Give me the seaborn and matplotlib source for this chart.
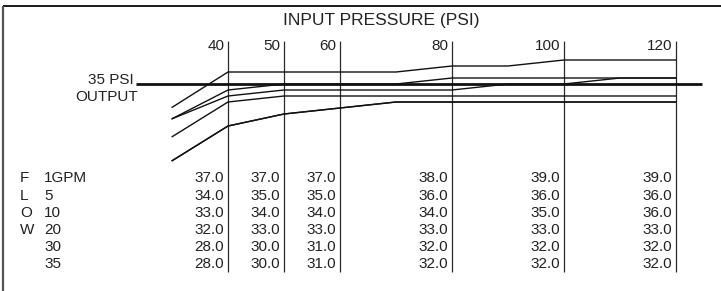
import matplotlib
matplotlib.use("Agg")
import matplotlib.pyplot as plt
import seaborn as sns
import pandas as pd
from matplotlib import font_manager

sns.set_theme(style="white")
fams = [f.name for f in font_manager.fontManager.ttflist]
main_font = "Liberation Sans Narrow" if "Liberation Sans Narrow" in fams else "Liberation Sans"
plt.rcParams["font.family"] = [main_font, "DejaVu Sans"]

# ---- data ----
pressures = [40, 50, 60, 80, 100, 120]
flow_labels = ["1GPM", "5", "10", "20", "30", "35"]
table = {
    "1GPM": [37.0, 37.0, 37.0, 38.0, 39.0, 39.0],
    "5": [34.0, 35.0, 35.0, 36.0, 36.0, 36.0],
    "10": [33.0, 34.0, 34.0, 34.0, 35.0, 36.0],
    "20": [32.0, 33.0, 33.0, 33.0, 33.0, 33.0],
    "30": [28.0, 30.0, 31.0, 32.0, 32.0, 32.0],
    "35": [28.0, 30.0, 31.0, 32.0, 32.0, 32.0],
}
# curve points (incl. intermediate breakpoints seen in the graph)
curve_p = [30, 40, 50, 60, 70, 80, 90, 100, 110, 120]
curves = {
    "1GPM": [31.1, 37, 37, 37, 37, 38, 38, 39, 39, 39],
    "5": [29.2, 34, 35, 35, 35, 36, 36, 36, 36, 36],
    "10": [29.2, 33, 34, 34, 34, 34, 35, 35, 36, 36],
    "20": [26.2, 32, 33, 33, 33, 33, 33, 33, 33, 33],
    "30": [22.2, 28, 30, 31, 32, 32, 32, 32, 32, 32],
    "35": [22.2, 28, 30, 31, 32, 32, 32, 32, 32, 32],
}
set_psi = 35
set_line_range = [23.6, 124.6]
title = "INPUT PRESSURE (PSI)"
flow_word = "FLOW"

# ---- figure ----
W, H = 721, 291
fig = plt.figure(figsize=(W / 100, H / 100), dpi=100)
ax = fig.add_axes([0, 0, 1, 1])
ax.set_axis_off()

# pixel <-> data mapping helpers
X0PX, XSCALE = 228, 5.6   # 40 psi at px 228, 5.6 px per psi
Y0PX, YSCALE = 72, 6.0    # 37 psi at px 72, 6 px per psi
def xd(px):
    return 40 + (px - X0PX) / XSCALE
def yd(py):
    return 37 - (py - Y0PX) / YSCALE
ax.set_xlim(xd(0), xd(W))
ax.set_ylim(yd(H), yd(0))

# frame (top and left)
ax.plot([xd(3.5), xd(W)], [yd(5.5), yd(5.5)], color="#1a1a1a", lw=1.4, solid_capstyle="butt")
ax.plot([xd(3.5), xd(3.5)], [yd(5.5), yd(H)], color="#555555", lw=1.6, solid_capstyle="butt")

# vertical pressure lines
ax.vlines(pressures, yd(272), yd(41), color="#2a2a2a", lw=0.9)

# curves
df = pd.DataFrame(
    [(f, p, v) for f in flow_labels for p, v in zip(curve_p, curves[f])],
    columns=["flow", "pressure", "output"],
)
sns.lineplot(data=df, x="pressure", y="output", units="flow", estimator=None,
             color="#111111", lw=1.0, ax=ax, sort=False, legend=False)

# 35 psi output line
ax.hlines(set_psi, set_line_range[0], set_line_range[1], color="#111111", lw=2.0)

ax.set_xlabel("")
ax.set_ylabel("")
ax.set_xlim(xd(0), xd(W))
ax.set_ylim(yd(H), yd(0))

fs = 11
# title
ax.text(xd(381), yd(21), title, ha="center", va="center", fontsize=12.5, color="#222222")
# pressure labels
for p in pressures:
    ax.text(p - 3.5 / XSCALE, yd(46.5), str(p), ha="right", va="center", fontsize=fs, color="#222222")

# output labels
ax.text(xd(134), yd(83.5), "35 PSI", ha="right", va="baseline", fontsize=fs, color="#222222")
ax.text(xd(138), yd(97), "OUTPUT", ha="right", va="center", fontsize=fs, color="#222222")

# table
row_y = [178.5 + 17.2 * i for i in range(len(flow_labels))]
for i, f in enumerate(flow_labels):
    ax.text(xd(44), yd(row_y[i]), f, ha="left", va="center", fontsize=fs, color="#222222")
    if i < len(flow_word):
        ax.text(xd(20), yd(row_y[i]), flow_word[i], ha="left", va="center", fontsize=fs, color="#222222")
    for p, v in zip(pressures, table[f]):
        ax.text(p - 4 / XSCALE, yd(row_y[i]), f"{v:.1f}", ha="right", va="center",
                fontsize=fs, color="#222222")

fig.savefig("out.png", dpi=100)
